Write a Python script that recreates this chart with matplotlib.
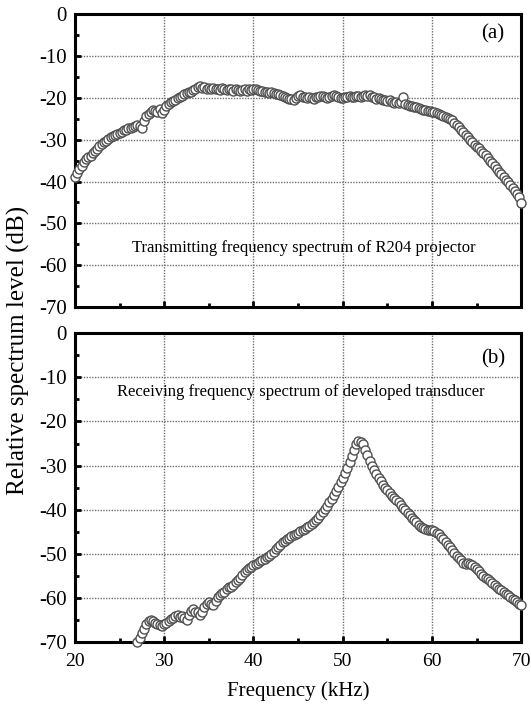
import numpy as np
import matplotlib.pyplot as plt
from matplotlib.ticker import MultipleLocator

plt.rcParams['font.family'] = ['Liberation Serif', 'DejaVu Serif']
plt.rcParams['axes.unicode_minus'] = False

# (a) transmitting spectrum of R204 projector, 0.25 kHz steps from 20 kHz
freq_a = np.linspace(20, 70, 201)
level_a = [
    -39.0, -38.0, -36.9, -36.2,
    -35.3, -34.7, -34.2, -33.8,
    -33.2, -32.7, -32.2, -31.6,
    -31.1, -30.6, -30.2, -29.8,
    -29.4, -29.1, -28.8, -28.6,
    -28.3, -28.1, -27.8, -27.6,
    -27.3, -27.1, -26.9, -26.8,
    -26.5, -26.7, -27.3, -25.5,
    -24.3, -23.8, -23.3, -22.9,
    -23.1, -23.4, -22.6, -23.6,
    -22.8, -22.0, -21.4, -21.0,
    -20.8, -20.4, -20.1, -19.8,
    -19.6, -19.2, -18.9, -18.7,
    -18.5, -18.2, -17.9, -17.5,
    -17.2, -17.6, -17.4, -17.8,
    -17.6, -17.9, -17.7, -18.0,
    -17.8, -18.1, -17.7, -17.9,
    -18.2, -17.9, -18.0, -18.3,
    -18.0, -18.1, -18.4, -18.2,
    -17.9, -18.3, -18.0, -18.1,
    -18.0, -17.8, -18.2, -18.4,
    -18.3, -18.6, -18.5, -18.8,
    -18.6, -18.9, -19.1, -19.0,
    -19.3, -19.6, -19.9, -20.1,
    -20.3, -20.2, -20.4, -20.0,
    -19.6, -19.4, -19.7, -19.9,
    -20.0, -19.8, -20.1, -20.2,
    -19.9, -19.7, -19.6, -19.5,
    -19.8, -20.0, -19.7, -19.5,
    -19.3, -19.6, -19.8, -20.0,
    -20.1, -19.9, -19.8, -19.6,
    -19.7, -19.9, -19.5, -19.6,
    -19.8, -19.5, -19.3, -19.6,
    -19.4, -19.7, -19.9, -20.2,
    -20.0, -20.3, -20.5, -20.6,
    -20.8, -20.6, -21.0, -21.2,
    -21.0, -21.3, -21.1, -19.8,
    -21.5, -21.7, -21.9, -22.0,
    -22.1, -22.3, -22.5, -22.6,
    -22.8, -23.0, -23.1, -23.2,
    -23.3, -23.5, -23.7, -23.9,
    -24.1, -24.3, -24.5, -24.7,
    -25.0, -25.4, -25.9, -26.4,
    -27.0, -27.6, -28.2, -28.8,
    -29.4, -30.0, -30.6, -31.2,
    -31.7, -32.1, -32.6, -33.1,
    -33.6, -34.3, -35.0, -35.6,
    -36.3, -37.0, -37.7, -38.3,
    -39.0, -39.6, -40.2, -40.8,
    -41.5, -42.2, -42.9, -43.6,
    -45.2,
]

# (b) receiving spectrum of developed transducer, 0.25 kHz steps from 27 kHz
freq_b = np.linspace(27, 70, 173)
level_b = [
    -69.9, -69.0, -68.0, -67.0,
    -66.0, -65.3, -65.0, -65.2,
    -65.6, -65.9, -66.1, -66.3,
    -66.0, -65.6, -65.3, -64.8,
    -64.5, -64.2, -63.9, -64.4,
    -64.0, -64.6, -64.9, -63.8,
    -62.9, -62.6, -63.1, -63.3,
    -63.8, -63.1, -62.0, -61.3,
    -60.9, -61.4, -61.6, -60.6,
    -59.8, -59.3, -59.0, -58.7,
    -58.0, -57.5, -57.6, -57.0,
    -56.5, -55.9, -55.4, -54.8,
    -54.2, -53.6, -53.2, -53.0,
    -52.6, -52.3, -52.0, -51.6,
    -51.4, -51.1, -50.8, -50.4,
    -50.0, -49.5, -49.0, -48.5,
    -47.9, -47.4, -47.1, -46.7,
    -46.4, -46.0, -45.8, -45.5,
    -45.2, -44.9, -44.6, -44.3,
    -44.0, -43.6, -43.2, -42.8,
    -42.3, -41.8, -41.2, -40.5,
    -39.8, -39.1, -38.3, -37.5,
    -36.6, -35.7, -34.8, -33.8,
    -32.8, -31.7, -30.5, -29.3,
    -27.9, -26.5, -25.0, -24.5,
    -24.6, -25.2, -26.4, -27.6,
    -28.9, -30.0, -31.0, -32.0,
    -32.8, -33.6, -34.3, -35.0,
    -35.6, -36.2, -36.8, -37.3,
    -37.8, -38.3, -38.9, -39.6,
    -40.1, -40.7, -41.3, -41.9,
    -42.4, -42.9, -43.4, -43.9,
    -44.2, -44.4, -44.6, -44.6,
    -44.7, -44.9, -45.2, -45.6,
    -46.1, -46.7, -47.3, -47.9,
    -48.5, -49.1, -49.8, -50.4,
    -51.0, -51.5, -52.1, -52.3,
    -52.2, -52.3, -52.5, -52.9,
    -53.4, -54.0, -54.5, -55.0,
    -55.4, -55.8, -56.2, -56.7,
    -57.1, -57.5, -57.9, -58.3,
    -58.7, -59.1, -59.4, -59.8,
    -60.2, -60.5, -60.9, -61.3,
    -61.7,
]

fig = plt.figure(figsize=(5.31, 7.09), dpi=100)
ax_a = fig.add_axes([0.141, 0.567, 0.841, 0.413])
ax_b = fig.add_axes([0.141, 0.0945, 0.841, 0.4355])

for ax, f, lv in ((ax_a, freq_a, level_a), (ax_b, freq_b, level_b)):
    ax.plot(f, lv, 'o', ms=6.5, mfc='white', mec='#505050', mew=1.0, clip_on=False, zorder=3)
    ax.set_xlim(20, 70)
    ax.set_ylim(-70, 0)
    ax.xaxis.set_major_locator(MultipleLocator(10))
    ax.xaxis.set_minor_locator(MultipleLocator(5))
    ax.yaxis.set_major_locator(MultipleLocator(10))
    ax.yaxis.set_minor_locator(MultipleLocator(5))
    ax.grid(True, which='major', color='#707070', linestyle=(0, (1, 1)), linewidth=1.0)
    ax.tick_params(which='both', direction='in', top=False, right=False, width=2, labelsize=15)
    ax.tick_params(which='major', length=4)
    ax.tick_params(which='minor', length=3)
    ax.tick_params(axis='x', pad=8)
    ax.tick_params(axis='y', pad=6)
    for s in ax.spines.values():
        s.set_linewidth(2.2)

ax_a.tick_params(labelbottom=False)
ax_b.tick_params(axis='x', labelsize=14)
ax_b.set_xlabel('Frequency (kHz)', fontsize=15, labelpad=8)
fig.text(0.034, 0.506, 'Relative spectrum level (dB)', rotation=90, fontsize=18,
         ha='center', va='center')

ax_a.text(45.6, -55.9, 'Transmitting frequency spectrum of R204 projector',
          fontsize=12, ha='center', va='center')
ax_b.text(45.3, -13.4, 'Receiving frequency spectrum of developed transducer',
          fontsize=12, ha='center', va='center')
ax_a.text(66.8, -4.8, '(a)', fontsize=15, ha='center', va='center')
ax_b.text(66.8, -5.7, '(b)', fontsize=15, ha='center', va='center')

fig.savefig('out.png', dpi=100)
